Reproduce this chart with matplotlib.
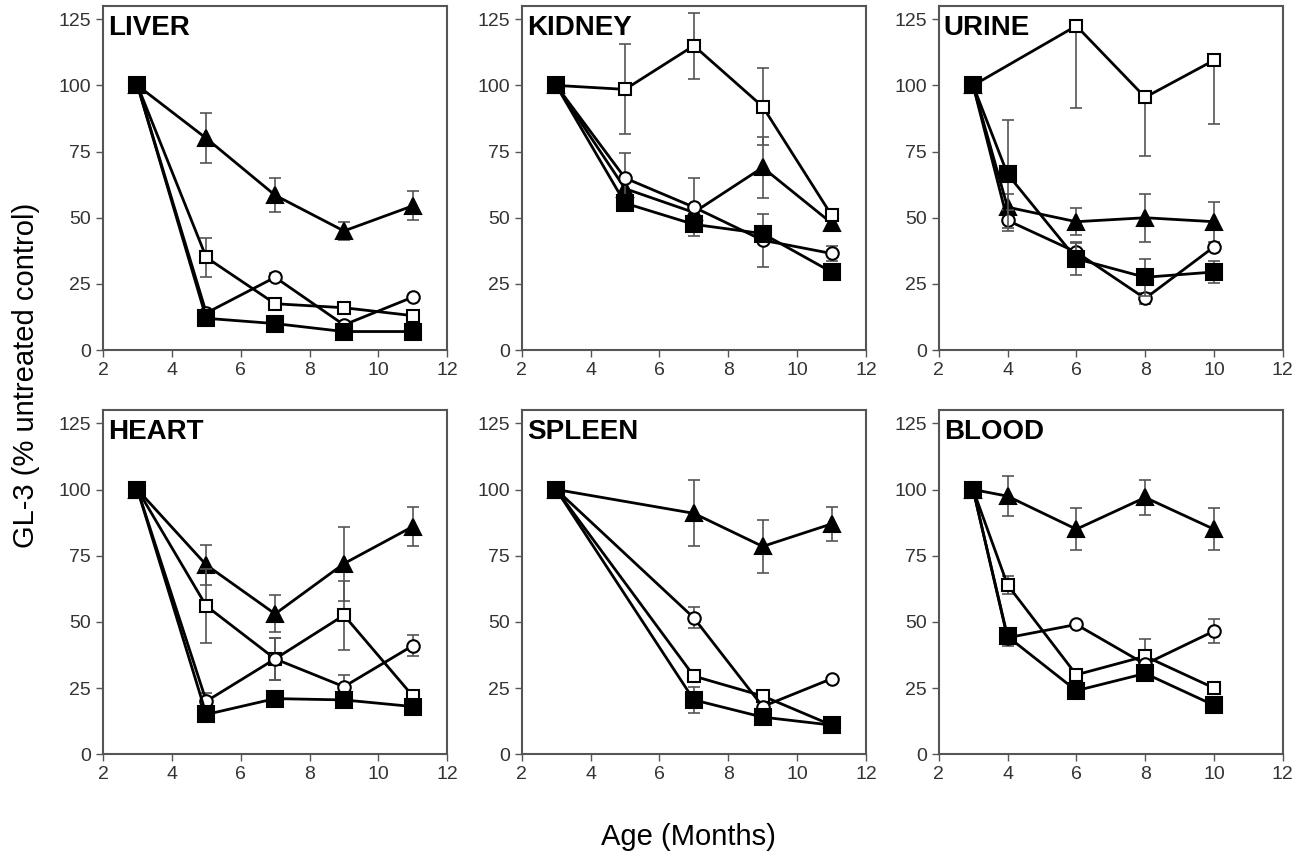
import matplotlib.pyplot as plt
import numpy as np

plt.rcParams['font.family'] = ['Liberation Sans', 'DejaVu Sans']

# panel titles and x values (months)
titles = ["LIVER", "KIDNEY", "URINE", "HEART", "SPLEEN", "BLOOD"]
x_odd = [3, 5, 7, 9, 11]
x_even = [3, 4, 6, 8, 10]
x_urine_sq = [3, 6, 8, 10]
x_spleen = [3, 7, 9, 11]

# LIVER
liver_tri = [100, 80, 58.5, 45, 54.5]
liver_tri_err = [0, 9.5, 6.5, 3.5, 5.5]
liver_osq = [100, 35, 17.5, 16, 13]
liver_osq_err = [0, 7.5, 2, 2, 2]
liver_cir = [100, 14, 27.5, 9.5, 20]
liver_cir_err = [0, 0, 1.5, 1.5, 0]
liver_fsq = [100, 12, 10, 7, 7]
liver_fsq_err = [0, 0, 0, 0, 0]

# KIDNEY
kidney_tri = [100, 61, 52, 69, 48]
kidney_tri_err = [0, 0, 0, 11.5, 0]
kidney_osq = [100, 98.5, 115, 92, 51]
kidney_osq_err = [0, 17, 12.5, 14.5, 2]
kidney_cir = [100, 65, 54, 41.5, 36.5]
kidney_cir_err = [0, 9.5, 11, 10, 3]
kidney_fsq = [100, 55.5, 47.5, 44, 29.5]
kidney_fsq_err = [0, 0, 0, 0, 0]

# URINE
urine_tri = [100, 54, 48.5, 50, 48.5]
urine_tri_err = [0, 5, 5, 9, 7.5]
urine_osq = [100, 122.5, 95.5, 109.5]
urine_osq_lo = [0, 31, 22, 24]
urine_cir = [100, 49, 37, 19.5, 39]
urine_cir_err = [0, 4, 4, 2, 0]
urine_fsq = [100, 66.5, 34.5, 27.5, 29.5]
urine_fsq_err = [0, 20.5, 6, 7, 4]

# HEART
heart_tri = [100, 71.5, 53, 72, 86]
heart_tri_err = [0, 7.5, 7, 14, 7.5]
heart_osq = [100, 56, 36, 52.5, 22]
heart_osq_err = [0, 14, 8, 13, 0]
heart_cir = [100, 20, 36, 25.5, 41]
heart_cir_err = [0, 3, 8, 4.5, 4]
heart_fsq = [100, 15, 21, 20.5, 18]
heart_fsq_err = [0, 0, 0, 0, 0]

# SPLEEN
spleen_tri = [100, 91, 78.5, 87]
spleen_tri_err = [0, 12.5, 10, 6.3]
spleen_osq = [100, 29.5, 22, 11]
spleen_osq_err = [0, 0, 2, 0]
spleen_cir = [100, 51.5, 18, 28.5]
spleen_cir_err = [0, 4, 0, 0]
spleen_fsq = [100, 20.5, 14, 11]
spleen_fsq_err = [0, 5, 0, 0]

# BLOOD
blood_tri = [100, 97.5, 85, 97, 85]
blood_tri_err = [0, 7.5, 8, 6.5, 8]
blood_osq = [100, 64, 30, 37, 25]
blood_osq_err = [0, 3.5, 0, 6.5, 0]
blood_cir = [100, 44, 49, 34, 46.5]
blood_cir_err = [0, 3, 0, 0, 4.5]
blood_fsq = [100, 44.5, 24, 30.5, 18.5]
blood_fsq_err = [0, 0, 0, 0, 0]

panels = [
    [(x_odd, liver_tri, liver_tri_err), (x_odd, liver_osq, liver_osq_err),
     (x_odd, liver_cir, liver_cir_err), (x_odd, liver_fsq, liver_fsq_err)],
    [(x_odd, kidney_tri, kidney_tri_err), (x_odd, kidney_osq, kidney_osq_err),
     (x_odd, kidney_cir, kidney_cir_err), (x_odd, kidney_fsq, kidney_fsq_err)],
    [(x_even, urine_tri, urine_tri_err), (x_urine_sq, urine_osq, (urine_osq_lo, [0] * 4)),
     (x_even, urine_cir, urine_cir_err), (x_even, urine_fsq, urine_fsq_err)],
    [(x_odd, heart_tri, heart_tri_err), (x_odd, heart_osq, heart_osq_err),
     (x_odd, heart_cir, heart_cir_err), (x_odd, heart_fsq, heart_fsq_err)],
    [(x_spleen, spleen_tri, spleen_tri_err), (x_spleen, spleen_osq, spleen_osq_err),
     (x_spleen, spleen_cir, spleen_cir_err), (x_spleen, spleen_fsq, spleen_fsq_err)],
    [(x_even, blood_tri, blood_tri_err), (x_even, blood_osq, blood_osq_err),
     (x_even, blood_cir, blood_cir_err), (x_even, blood_fsq, blood_fsq_err)],
]

# marker styles: filled triangle, open square, open circle, filled square
styles = [
    dict(marker="^", ms=11, mfc="black"),
    dict(marker="s", ms=9, mfc="white"),
    dict(marker="o", ms=9, mfc="white"),
    dict(marker="s", ms=11, mfc="black"),
]

fig = plt.figure(figsize=(13.11, 8.58), dpi=100)
lefts = [0.0786, 0.398, 0.716]
bottoms = [0.592, 0.121]
w, h = 0.2625, 0.401

for i, (title, series) in enumerate(zip(titles, panels)):
    ax = fig.add_axes([lefts[i % 3], bottoms[i // 3], w, h])
    for k, ((x, y, err), st) in enumerate(zip(series, styles)):
        x = np.array(x, dtype=float)
        y = np.array(y, dtype=float)
        if isinstance(err, tuple):
            lo = np.array(err[0], dtype=float)
            hi = np.array(err[1], dtype=float)
        else:
            lo = hi = np.array(err, dtype=float)
        m = (lo > 0) | (hi > 0)
        if m.any():
            ax.errorbar(x[m], y[m], yerr=[lo[m], hi[m]], fmt="none",
                        ecolor="#555555", elinewidth=1.2, capsize=4,
                        capthick=1.2, zorder=2 + k)
        ax.plot(x, y, color="black", lw=2, mec="black", mew=1.5,
                zorder=3 + k, **st)
    ax.set_xlim(2, 12)
    ax.set_ylim(0, 130)
    ax.set_xticks([2, 4, 6, 8, 10, 12])
    ax.set_yticks([0, 25, 50, 75, 100, 125])
    ax.tick_params(direction="out", length=5, width=1, color="#555555",
                   labelsize=14, labelcolor="#333333")
    for s in ax.spines.values():
        s.set_color("#555555")
        s.set_linewidth(1.5)
    ax.text(0.015, 0.975, title, transform=ax.transAxes, fontsize=20,
            fontweight="bold", va="top", ha="left")

fig.text(0.02, 0.563, "GL-3 (% untreated control)", rotation=90,
         fontsize=21, va="center", ha="center")
fig.text(0.525, 0.025, "Age (Months)", fontsize=21, va="center", ha="center")

fig.savefig("out.png", dpi=100)
